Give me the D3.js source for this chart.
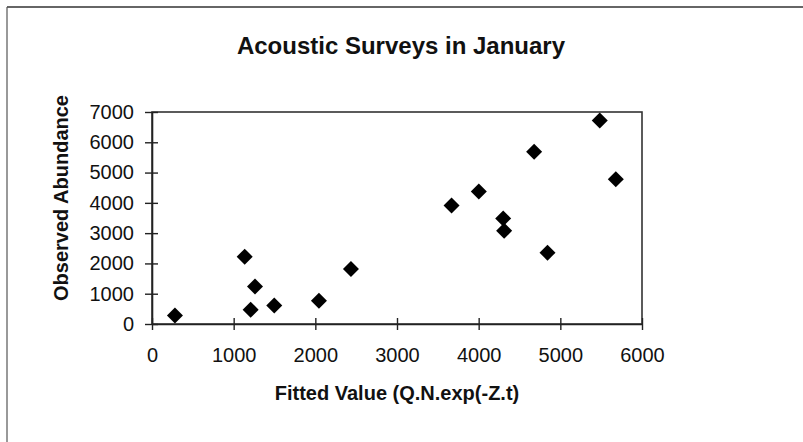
<!DOCTYPE html>
<html>
<head>
<meta charset="utf-8">
<script src="https://cdn.jsdelivr.net/npm/d3@7"></script>
<style>
  html, body { margin: 0; padding: 0; background: #fff; }
  svg { display: block; }
  text { font-family: "Liberation Sans", Arial, Helvetica, sans-serif; fill: #111; }
</style>
</head>
<body>
<svg id="chart" width="803" height="442"></svg>
<script>
const fittedValues = [281, 1135, 1261, 1208, 1497, 2044, 2436, 3668, 4002, 4300, 4312, 4843, 4679, 5483, 5679];
const observedValues = [283, 2224, 1237, 470, 612, 766, 1819, 3914, 4375, 3487, 3079, 2355, 5691, 6717, 4780];
const xTicks = [0, 1000, 2000, 3000, 4000, 5000, 6000];
const yTicks = [0, 1000, 2000, 3000, 4000, 5000, 6000, 7000];
const titleText = "Acoustic Surveys in January";
const xLabel = "Fitted Value (Q.N.exp(-Z.t)";
const yLabel = "Observed Abundance";

const svg = d3.select("#chart");
const W = 803, H = 442;
const plot = { left: 152, right: 642, top: 112, bottom: 324 };

// outer frame (top & left edges visible)
svg.append("line").attr("x1", 7).attr("y1", 7).attr("x2", W).attr("y2", 7)
  .attr("stroke", "#333").attr("stroke-width", 1.5);
svg.append("line").attr("x1", 7).attr("y1", 7).attr("x2", 7).attr("y2", H)
  .attr("stroke", "#555").attr("stroke-width", 1.2);

const x = d3.scaleLinear().domain([0, 6000]).range([plot.left, plot.right]);
const y = d3.scaleLinear().domain([0, 7000]).range([plot.bottom, plot.top]);

// plot box
svg.append("rect")
  .attr("x", plot.left).attr("y", plot.top)
  .attr("width", plot.right - plot.left).attr("height", plot.bottom - plot.top)
  .attr("fill", "none").attr("stroke", "#333").attr("stroke-width", 1.6);

// x axis
const xAxis = svg.append("g").attr("transform", `translate(0,${plot.bottom})`)
  .call(d3.axisBottom(x).tickValues(xTicks).tickSizeInner(6).tickSizeOuter(0).tickPadding(18).tickFormat(d3.format("d")));
xAxis.select(".domain").attr("stroke", "#222").attr("stroke-width", 1.6);
xAxis.selectAll(".tick line").attr("y1", -6).attr("y2", 6).attr("stroke", "#222").attr("stroke-width", 1.4);
xAxis.selectAll(".tick text").attr("font-size", 20).attr("fill", "#111")
  .attr("font-family", "Liberation Sans, Arial, sans-serif");

// y axis
const yAxis = svg.append("g").attr("transform", `translate(${plot.left},0)`)
  .call(d3.axisLeft(y).tickValues(yTicks).tickSizeInner(6).tickSizeOuter(0).tickPadding(12).tickFormat(d3.format("d")));
yAxis.select(".domain").attr("stroke", "#222").attr("stroke-width", 1.6);
yAxis.selectAll(".tick line").attr("x1", -7).attr("x2", 6).attr("stroke", "#222").attr("stroke-width", 1.4);
yAxis.selectAll(".tick text").attr("font-size", 20).attr("fill", "#111")
  .attr("font-family", "Liberation Sans, Arial, sans-serif");

// points
const data = fittedValues.map((v, i) => ({ fx: v, oy: observedValues[i] }));
const sym = d3.symbol().type(d3.symbolSquare).size(128);
svg.append("g").selectAll("path").data(data).join("path")
  .attr("d", sym)
  .attr("transform", d => `translate(${x(d.fx)},${y(d.oy)}) rotate(45)`)
  .attr("fill", "#000");

// title
svg.append("text").attr("x", 401).attr("y", 54).attr("text-anchor", "middle")
  .attr("font-size", 24).attr("font-weight", "bold").text(titleText);

// x label
svg.append("text").attr("x", 397).attr("y", 400).attr("text-anchor", "middle")
  .attr("font-size", 20).attr("font-weight", "bold").text(xLabel);

// y label
svg.append("text").attr("transform", `translate(68,198) rotate(-90)`).attr("text-anchor", "middle")
  .attr("font-size", 20).attr("font-weight", "bold").text(yLabel);
</script>
</body>
</html>
